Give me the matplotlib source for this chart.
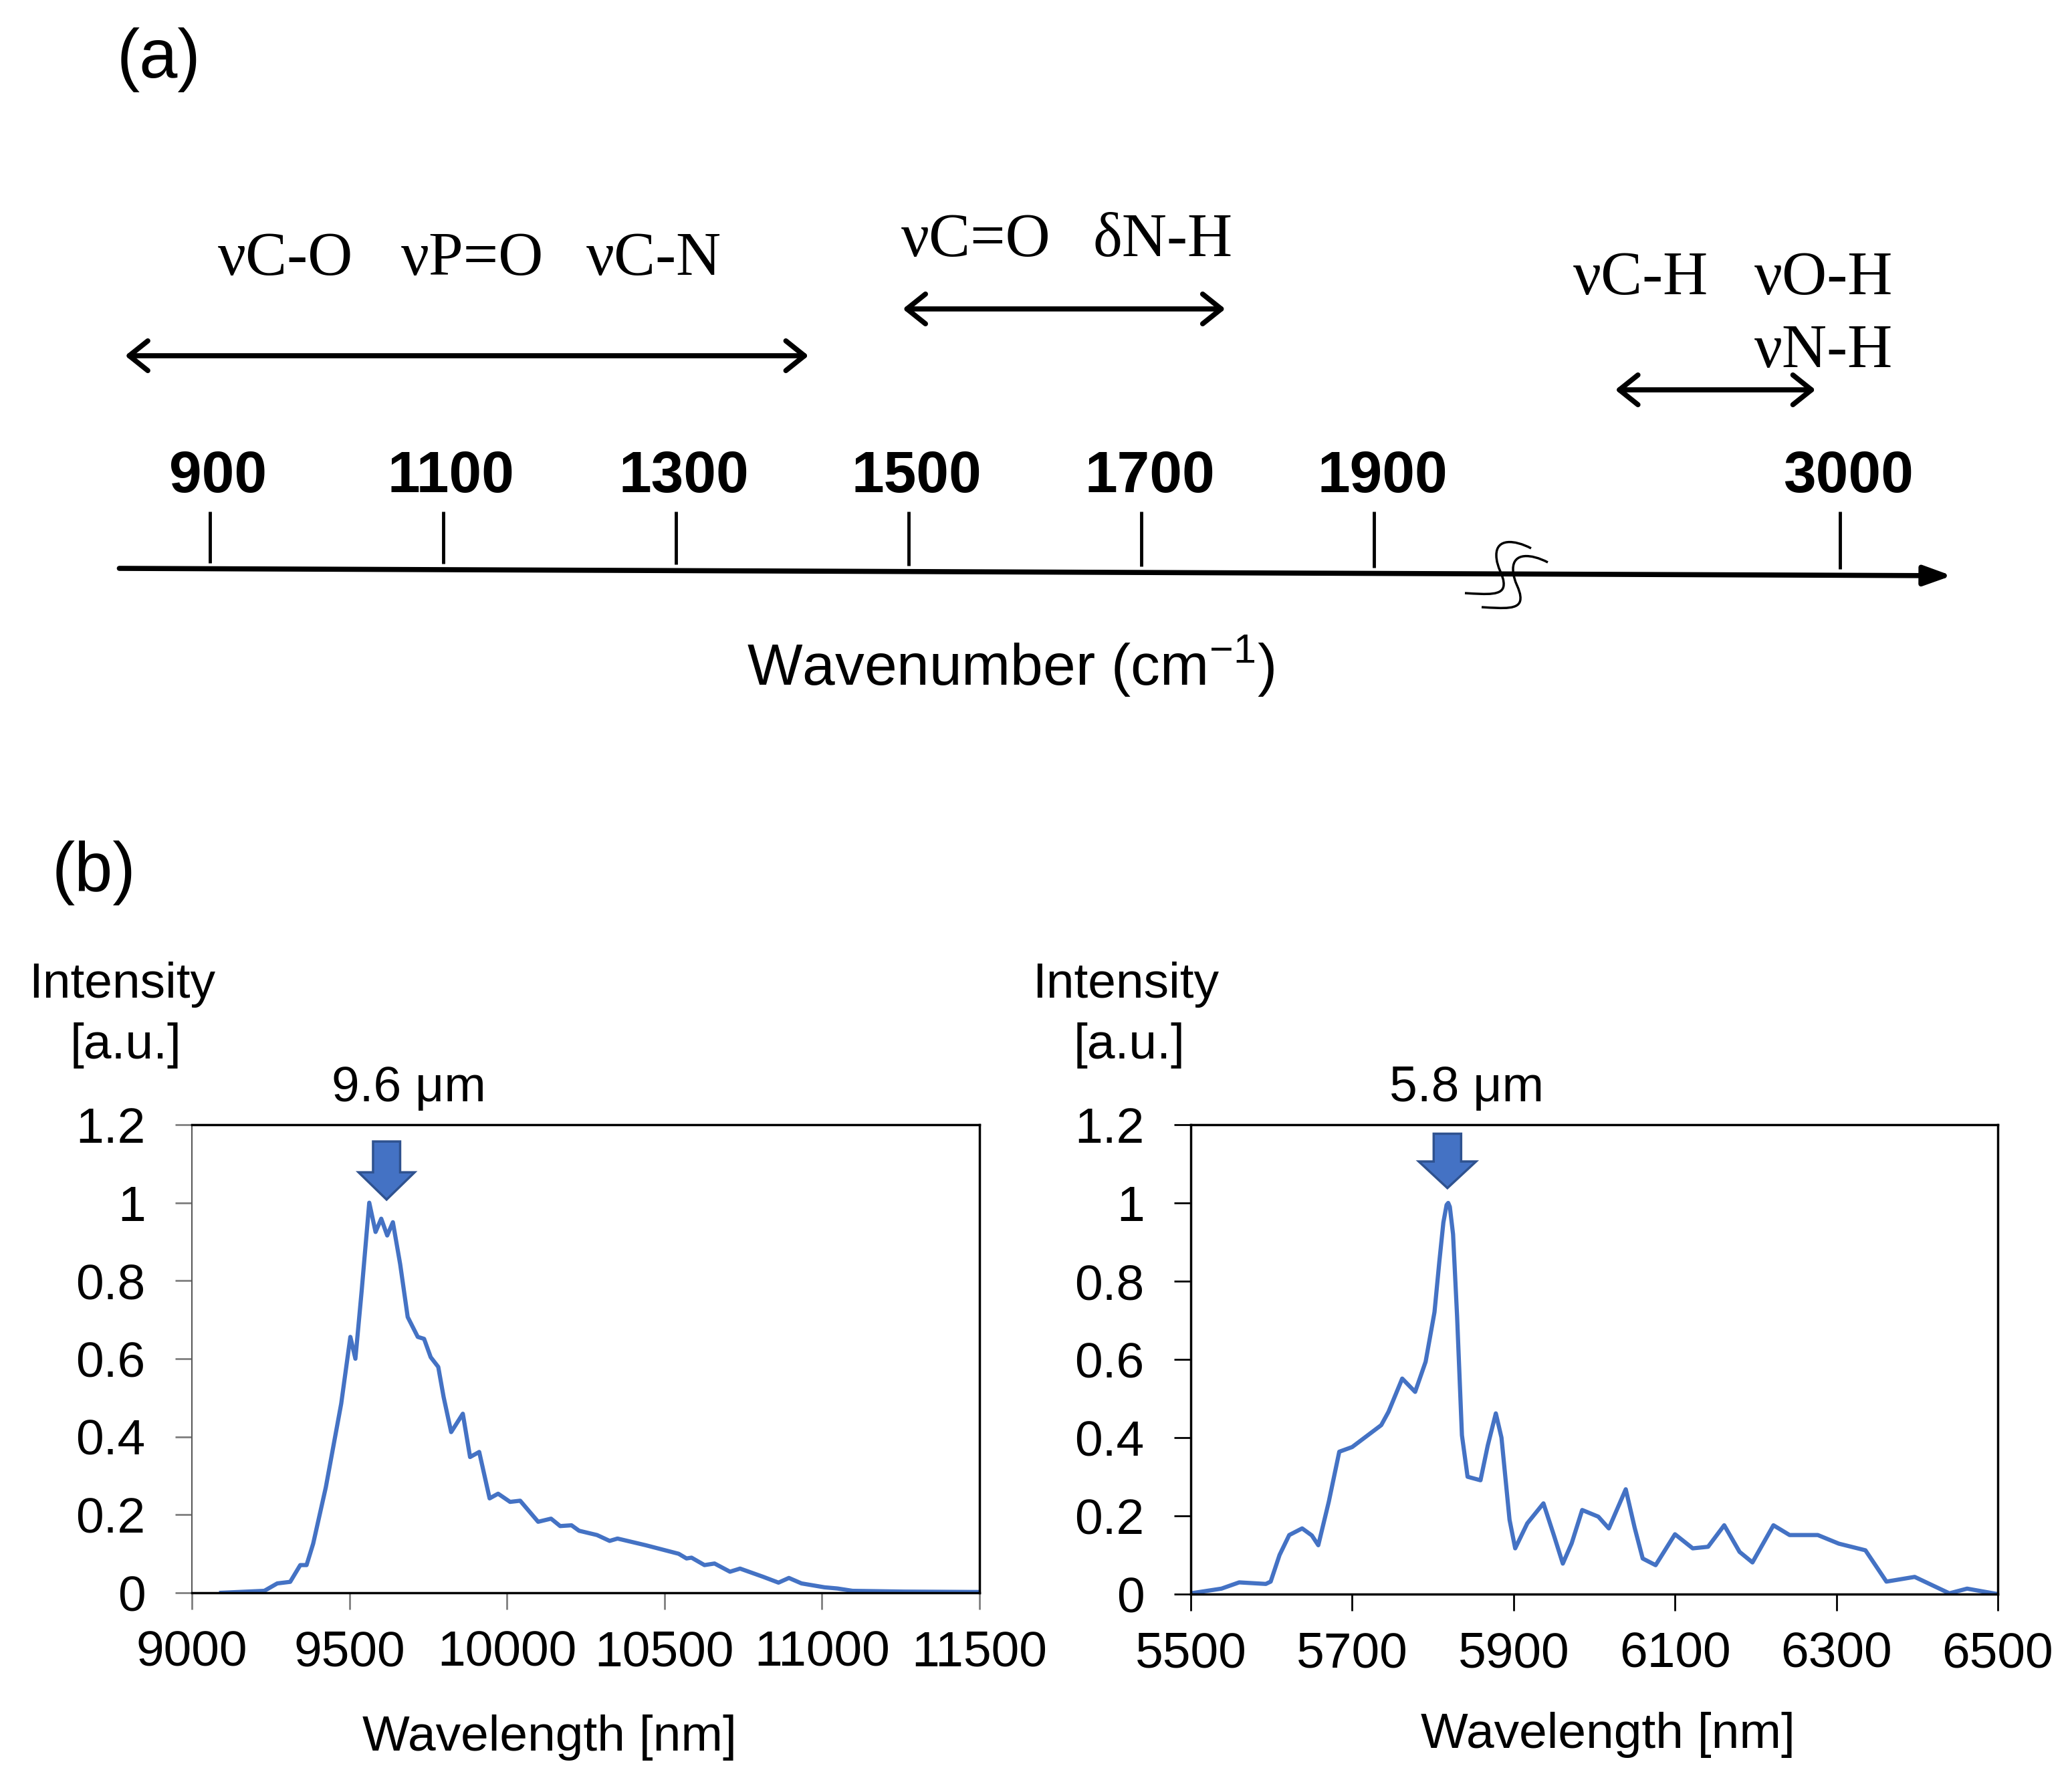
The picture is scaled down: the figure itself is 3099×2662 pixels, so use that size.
import matplotlib
matplotlib.use("Agg")
import matplotlib.pyplot as plt
import matplotlib.transforms as mtransforms
from matplotlib.patches import FancyArrowPatch, PathPatch
from matplotlib.path import Path
from matplotlib.ticker import FuncFormatter, MultipleLocator

plt.rcParams['font.family'] = ['Liberation Sans', 'DejaVu Sans']
plt.rcParams['mathtext.fontset'] = 'custom'
plt.rcParams['mathtext.rm'] = 'Liberation Sans'
plt.rcParams['mathtext.it'] = 'Liberation Sans:italic'

# ---- (a) wavenumber schematic ----
wn_ticks = [900, 1100, 1300, 1500, 1700, 1900, 3000]
band_labels = ["νC-O", "νP=O", "νC-N", "νC=O", "δN-H", "νC-H", "νO-H", "νN-H"]
band_centers = [965, 1125, 1281, 1558, 1718, 2829, 2986, 2986]
band_baselines = [411, 411, 411, 383, 383, 440, 440, 549]
regions = [(827, 1414), (1495, 1772), (2807, 2979)]
region_rows = [532, 462, 583]
BREAK_AT, BREAK_GAP = 2000, 700

# ---- (b) emission spectra ----
left_wl = [9093, 9230, 9271, 9312, 9344, 9364, 9385, 9425, 9474, 9503, 9519,
           9539, 9563, 9583, 9601, 9620, 9638, 9661, 9685, 9717, 9737, 9758,
           9782, 9799, 9823, 9860, 9883, 9912, 9945, 9972, 10010, 10042, 10099,
           10140, 10169, 10205, 10229, 10286, 10326, 10351, 10440, 10545, 10570,
           10586, 10627, 10659, 10708, 10740, 10813, 10862, 10895, 10935, 11008,
           11049, 11097, 11260, 11500]
left_int = [0, 0.005, 0.024, 0.028, 0.071, 0.071, 0.126, 0.27, 0.485, 0.656, 0.60,
            0.775, 1.0, 0.925, 0.959, 0.916, 0.95, 0.843, 0.707, 0.656, 0.651, 0.604,
            0.579, 0.502, 0.412, 0.459, 0.348, 0.361, 0.242, 0.254, 0.233, 0.236, 0.182,
            0.19, 0.171, 0.173, 0.159, 0.148, 0.133, 0.139, 0.122, 0.10, 0.088,
            0.090, 0.071, 0.075, 0.054, 0.062, 0.041, 0.026, 0.038, 0.024, 0.014,
            0.011, 0.005, 0.003, 0.002]

right_wl = [5500, 5538, 5560, 5593, 5599, 5610, 5622, 5638, 5650, 5658, 5671, 5684,
            5700, 5736, 5745, 5762, 5778, 5791, 5802, 5808, 5813, 5817, 5819, 5821,
            5825, 5830, 5836, 5843, 5859, 5868, 5878, 5885, 5895, 5902, 5917, 5937,
            5950, 5961, 5972, 5985, 6005, 6018, 6039, 6050, 6060, 6076, 6100, 6122,
            6141, 6161, 6180, 6196, 6222, 6242, 6277, 6303, 6336, 6362, 6397, 6440,
            6462, 6500]
right_int = [0.002, 0.014, 0.03, 0.026, 0.032, 0.10, 0.151, 0.168, 0.15, 0.125, 0.236, 0.364,
             0.376, 0.432, 0.466, 0.551, 0.517, 0.594, 0.721, 0.85, 0.95, 0.995, 1.0, 0.99,
             0.92, 0.71, 0.406, 0.30, 0.291, 0.38, 0.462, 0.40, 0.19, 0.117, 0.181, 0.232,
             0.15, 0.078, 0.13, 0.215, 0.198, 0.168, 0.268, 0.17, 0.091, 0.074, 0.153, 0.117,
             0.121, 0.176, 0.108, 0.081, 0.176, 0.151, 0.151, 0.129, 0.112, 0.032, 0.044, 0.002,
             0.014, 0.0]

left_xticks = [9000, 9500, 10000, 10500, 11000, 11500]
right_xticks = [5500, 5700, 5900, 6100, 6300, 6500]
peak_labels = ["9.6 μm", "5.8 μm"]
peak_arrow_x = [9618, 5818]

W, H = 3099, 2662
fig = plt.figure(figsize=(W / 100 + 1e-6, H / 100 + 1e-6), dpi=100)
PX = mtransforms.Affine2D().scale(1 / W, -1 / H).translate(0, 1) + fig.transFigure


def wn_pos(w):
    return w - BREAK_GAP if w > BREAK_AT else w


# panel (a): x in (broken) wavenumber, y in pixels from top
ax_a = fig.add_axes([0, 0, 1, 1])
ax_a.set_xlim(719.5, 2499.3)
ax_a.set_ylim(H, 0)
ax_a.axis('off')


def axis_y(x):
    # the drawn axis line slopes down a little to the right
    return 850 + (x - 822) / (2396 - 822) * 11


ax_a.add_patch(FancyArrowPatch((822, axis_y(822)), (2396, axis_y(2396)),
                               arrowstyle='-|>,head_length=1.25,head_width=0.45',
                               mutation_scale=20, lw=5.5, color='black',
                               shrinkA=0, shrinkB=0))
for w in wn_ticks:
    x = wn_pos(w)
    ax_a.plot([x, x], [765, axis_y(x) - 9], color='black', lw=3.5, solid_capstyle='butt')
    # labels sit slightly right of their tick in the original
    ax_a.text(x + 7, 736, str(w), ha='center', va='baseline', fontsize=63, fontweight='bold')

for (lo, hi), y in zip(regions, region_rows):
    ax_a.add_patch(FancyArrowPatch((wn_pos(lo), y), (wn_pos(hi), y),
                                   arrowstyle='<->,head_length=0.5,head_width=0.4',
                                   mutation_scale=40, lw=5.5, color='black',
                                   shrinkA=0, shrinkB=0))

for lab, w, yb in zip(band_labels, band_centers, band_baselines):
    ax_a.text(wn_pos(w), yb, lab, ha='center', va='baseline', fontsize=67,
              family=['Liberation Serif', 'DejaVu Serif'])

# break mark on the axis
s_verts = [(2290, 820), (2265, 807), (2238, 805), (2238, 830),
           (2238, 850), (2250, 860), (2249, 875),
           (2248, 891), (2225, 889), (2191, 887)]
s_codes = [Path.MOVETO] + [Path.CURVE4] * 9
for dx, dy in [(0, 0), (25, 21)]:
    p = Path([(x + dx, y + dy) for x, y in s_verts], s_codes)
    fig.add_artist(PathPatch(p, transform=PX, fill=False, lw=2.5, color='black'))

fig.text(1512, 1025, 'Wavenumber (cm$^{-1}$)', transform=PX, ha='center',
         va='baseline', fontsize=63)
fig.text(237, 89, '(a)', transform=PX, ha='center', va='center', fontsize=74)
fig.text(140, 1305, '(b)', transform=PX, ha='center', va='center', fontsize=74)

# panel (b)
BLUE = '#4472C4'
ax_l = fig.add_axes([287 / W, 1 - 2382 / H, (1465 - 287) / W, 700 / H])
ax_r = fig.add_axes([1781 / W, 1 - 2384 / H, (2988 - 1781) / W, 702 / H])

specs = [
    (ax_l, left_wl, left_int, left_xticks, '#7f7f7f', 178, 86, (1.157, 1.008, 0.07)),
    (ax_r, right_wl, right_int, right_xticks, 'black', 71, 34, (1.177, 1.038, 0.068)),
]
for i, (ax, xs, ys, xt, tcol, hw, sw, (ytop, ytip, hl)) in enumerate(specs):
    ax.plot(xs, ys, color=BLUE, lw=4.5, solid_joinstyle='round')
    ax.set_xlim(xt[0], xt[-1])
    ax.set_ylim(0, 1.2)
    ax.set_xticks(xt)
    ax.yaxis.set_major_locator(MultipleLocator(0.2))
    ax.yaxis.set_major_formatter(FuncFormatter(lambda v, p: f"{v:g}"))
    ax.tick_params(axis='both', direction='out', length=18, width=2, color=tcol,
                   labelsize=54)
    ax.tick_params(axis='y', pad=32)
    ax.tick_params(axis='x', pad=22)
    for sp in ax.spines.values():
        sp.set_linewidth(2.5)
        sp.set_color('black')
    ax.arrow(peak_arrow_x[i], ytop, 0, ytip - ytop, width=sw, head_width=hw,
             head_length=hl, length_includes_head=True, fc=BLUE, ec='#2F528F',
             lw=2.5, zorder=5)
ax_l.spines['left'].set_color('#595959')
ax_l.spines['left'].set_linewidth(1.5)

label_pos = [(183, 822, 2618, 611), (1684, 2405, 2614, 2194)]
for (ix, xc, xb, pk), lab in zip(label_pos, peak_labels):
    fig.text(ix, 1492, 'Intensity', transform=PX, ha='center', va='baseline', fontsize=54)
    fig.text(ix + 5, 1583, '[a.u.]', transform=PX, ha='center', va='baseline', fontsize=54)
    fig.text(pk, 1647, lab, transform=PX, ha='center', va='baseline', fontsize=54)
    fig.text(xc, xb, 'Wavelength [nm]', transform=PX, ha='center', va='baseline', fontsize=54)

fig.savefig('out.png', dpi=100)
